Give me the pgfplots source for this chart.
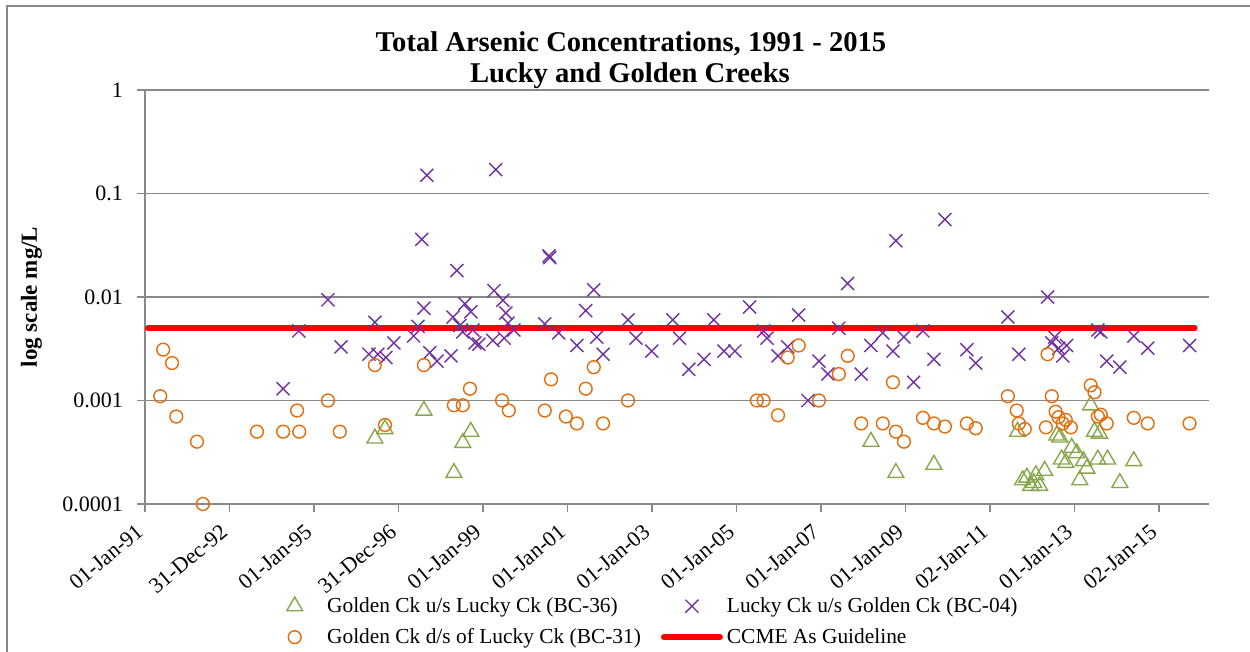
\documentclass[border=0pt]{standalone}
\usepackage{fontspec}
\setmainfont{Liberation Serif}
\usepackage{pgfplots}
\pgfplotsset{compat=1.18}
\definecolor{bcgreen}{HTML}{86A74A}
\definecolor{bcpurple}{HTML}{7030A0}
\definecolor{bcorange}{HTML}{E46C0A}
\definecolor{framegray}{HTML}{898989}

\begin{document}
\begin{tikzpicture}
\useasboundingbox (0pt,0pt) rectangle (625pt,326pt);
\fill[white] (0pt,0pt) rectangle (625pt,326pt);
\draw[framegray, line width=0.8pt] (3.5pt,-20pt) -- (3.5pt,323pt) -- (700pt,323pt);
\begin{axis}[
  at={(72.5pt,74pt)}, anchor=south west,
  scale only axis, width=532pt, height=207pt,
  ymode=log, ymin=1e-4, ymax=1,
  xmin=1991, xmax=2016.18,
  axis x line*=bottom, axis y line*=left,
  axis line style={framegray, line width=0.7pt, -},
  ymajorgrids, grid style={framegray, line width=0.7pt},
  yminorticks=false,
  ytick={1e-4,1e-3,1e-2,1e-1,1}, yticklabels={0.0001,0.001,0.01,0.1,1},
  xtick={1991,1993,...,2015},
  xticklabels={01-Jan-91,31-Dec-92,01-Jan-95,31-Dec-96,01-Jan-99,01-Jan-01,01-Jan-03,01-Jan-05,01-Jan-07,01-Jan-09,02-Jan-11,01-Jan-13,02-Jan-15},
  tick align=outside, major tick length=4pt,
  tick style={framegray, line width=0.7pt},
  tick label style={font=\fontsize{11}{13}\selectfont},
  xticklabel style={rotate=40, anchor=east},
  xticklabel shift=6pt,
  yticklabel style={xshift=-3.5pt},
  clip=false,
  legend columns=2, legend cell align=left,
  legend style={draw=none, fill=none, at={(0.108,-0.205)}, anchor=north west,
    font=\fontsize{10.7}{12}\selectfont, row sep=2.5pt,
    /tikz/every even column/.append style={column sep=8pt}},
  legend image code/.code={\path (0pt,0pt) (28pt,0pt);
    \draw[mark repeat=2,mark phase=2,#1] plot coordinates {(0pt,0pt) (14pt,0pt) (28pt,0pt)};},
]
% CCME guideline drawn first so the markers sit on top of it
\addplot[forget plot, red, line width=3pt, line cap=round] coordinates {(1991.07,0.005) (2015.84,0.005)};

% BC-36
\addplot[only marks, mark=triangle, mark size=4.6pt, bcgreen, mark options={line width=0.7pt}] coordinates {
(1996.44,0.00043) (1996.68,0.00053) (1997.60,0.0008) (1998.31,0.0002) (1998.52,0.00039) (1998.71,0.0005)
(2008.18,0.0004) (2008.77,0.0002) (2009.67,0.00024) (2011.65,0.0005)
(2011.77,0.00017) (2011.87,0.00018) (2011.96,0.00015) (2012.03,0.00016) (2012.08,0.00019) (2012.17,0.00015) (2012.29,0.00021)
(2012.58,0.00046) (2012.65,0.00044) (2012.69,0.00027) (2012.79,0.00025) (2012.93,0.00035) (2013.05,0.00031)
(2013.12,0.00017) (2013.21,0.00026) (2013.29,0.00022) (2013.38,0.0009) (2013.47,0.0005) (2013.55,0.00027)
(2013.59,0.00048) (2013.78,0.00027) (2014.07,0.00016) (2014.40,0.00026)
};
\addlegendentry{Golden Ck u/s Lucky Ck (BC-36)}

% BC-04
\addplot[only marks, mark=x, mark size=4.6pt, bcpurple, mark options={line width=0.7pt}] coordinates {
(1994.27,0.0013) (1994.64,0.0047) (1995.33,0.0094) (1995.64,0.0033) (1996.30,0.0028) (1996.44,0.0057)
(1996.51,0.0028) (1996.70,0.0026) (1996.89,0.0036) (1997.36,0.0042) (1997.46,0.0052) (1997.55,0.036)
(1997.60,0.0078) (1997.67,0.15) (1997.74,0.0029) (1997.91,0.0024) (1998.24,0.0027) (1998.29,0.0064)
(1998.38,0.018) (1998.45,0.0053) (1998.52,0.0046) (1998.57,0.0086) (1998.71,0.0072) (1998.76,0.0048)
(1998.81,0.0036) (1998.90,0.0035) (1999.23,0.0038) (1999.26,0.0115) (1999.30,0.17) (1999.47,0.0093)
(1999.50,0.004) (1999.54,0.007) (1999.59,0.0056) (1999.73,0.0048)
(2000.46,0.0055) (2000.56,0.025) (2000.58,0.024) (2000.79,0.0045) (2001.22,0.0034) (2001.43,0.0074)
(2001.62,0.0117) (2001.69,0.0041) (2001.84,0.0028) (2002.43,0.006) (2002.62,0.004) (2002.99,0.003)
(2003.49,0.006) (2003.65,0.004) (2003.87,0.002) (2004.23,0.0025) (2004.46,0.006) (2004.70,0.003)
(2004.96,0.003) (2005.31,0.008) (2005.64,0.0047) (2005.72,0.004) (2005.98,0.0027) (2006.21,0.0033)
(2006.47,0.0067) (2006.69,0.001) (2006.95,0.0024) (2007.16,0.0018) (2007.42,0.005) (2007.63,0.0135)
(2007.95,0.0018) (2008.18,0.0034) (2008.46,0.0045) (2008.70,0.003) (2008.77,0.035) (2008.96,0.0041)
(2009.19,0.0015) (2009.41,0.0047) (2009.67,0.0025) (2009.93,0.056) (2010.45,0.0031) (2010.66,0.0023)
(2011.42,0.0064) (2011.68,0.0028) (2012.36,0.01) (2012.46,0.0036) (2012.53,0.0041) (2012.62,0.0032)
(2012.72,0.0027) (2012.81,0.0034) (2013.55,0.0048) (2013.62,0.0046) (2013.76,0.0024) (2014.07,0.0021)
(2014.40,0.0042) (2014.73,0.0032) (2015.72,0.0034)
};
\addlegendentry{Lucky Ck u/s Golden Ck (BC-04)}

% BC-31
\addplot[only marks, mark=o, mark size=3.2pt, bcorange, mark options={line width=0.7pt}] coordinates {
(1991.36,0.0011) (1991.43,0.0031) (1991.64,0.0023) (1991.74,0.0007) (1992.23,0.0004) (1992.37,0.0001)
(1993.65,0.0005) (1994.27,0.0005) (1994.60,0.0008) (1994.65,0.0005) (1995.33,0.001) (1995.61,0.0005)
(1996.44,0.0022) (1996.68,0.00058) (1997.60,0.0022) (1998.31,0.0009) (1998.52,0.0009) (1998.69,0.0013)
(1999.45,0.001) (1999.61,0.0008) (2000.46,0.0008) (2000.61,0.0016) (2000.96,0.0007) (2001.22,0.0006)
(2001.43,0.0013) (2001.62,0.0021) (2001.84,0.0006) (2002.43,0.001)
(2005.48,0.001) (2005.64,0.001) (2005.98,0.00072) (2006.21,0.0026) (2006.47,0.0034) (2006.95,0.001)
(2007.42,0.0018) (2007.63,0.0027) (2007.95,0.0006) (2008.46,0.0006) (2008.70,0.0015) (2008.77,0.0005)
(2008.96,0.0004) (2009.41,0.00068) (2009.67,0.0006) (2009.93,0.00056) (2010.45,0.0006) (2010.66,0.00054)
(2011.42,0.0011) (2011.63,0.0008) (2011.68,0.0006) (2011.82,0.00053)
(2012.32,0.00055) (2012.36,0.0028) (2012.46,0.0011) (2012.55,0.00078) (2012.62,0.00069) (2012.72,0.0006)
(2012.79,0.00065) (2012.91,0.00055) (2013.38,0.0014) (2013.47,0.0012) (2013.55,0.0007) (2013.62,0.00073)
(2013.76,0.0006) (2014.40,0.00068) (2014.73,0.0006) (2015.72,0.0006)
};
\addlegendentry{Golden Ck d/s of Lucky Ck (BC-31)}

\addlegendimage{red, line width=3pt, line cap=round}
\addlegendentry{CCME As Guideline}
\end{axis}
\node[anchor=base, font=\bfseries\fontsize{14.3}{16}\selectfont] at (315.5pt,300pt) {Total Arsenic Concentrations, 1991 - 2015};
\node[anchor=base, font=\bfseries\fontsize{14.3}{16}\selectfont] at (315pt,284.5pt) {Lucky and Golden Creeks};
\node[rotate=90, font=\bfseries\fontsize{11.5}{13}\selectfont] at (15.75pt,177.5pt) {log scale mg/L};
\end{tikzpicture}
\end{document}
